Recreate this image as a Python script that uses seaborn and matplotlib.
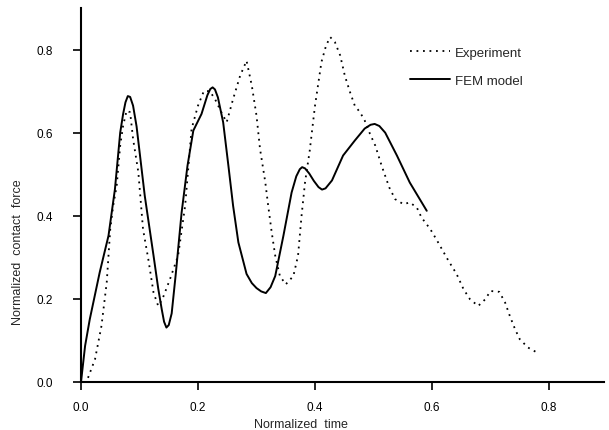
import matplotlib
matplotlib.use("Agg")
import matplotlib.pyplot as plt
import seaborn as sns
import pandas as pd

# ---- data ----
fem_time = [0.000, 0.007, 0.015, 0.032, 0.047, 0.058, 0.067, 0.072, 0.076, 0.080,
            0.084, 0.089, 0.095, 0.109, 0.124, 0.132, 0.138, 0.142, 0.146, 0.150,
            0.155, 0.162, 0.172, 0.182, 0.192, 0.206, 0.216, 0.221, 0.225, 0.229,
            0.234, 0.243, 0.252, 0.260, 0.269, 0.283, 0.292, 0.300, 0.308, 0.316,
            0.324, 0.332, 0.346, 0.360, 0.368, 0.374, 0.378, 0.383, 0.390, 0.398,
            0.406, 0.412, 0.418, 0.429, 0.448, 0.468, 0.485, 0.495, 0.502, 0.510,
            0.520, 0.540, 0.562, 0.591]
fem_force = [0.000, 0.087, 0.151, 0.264, 0.352, 0.464, 0.600, 0.645, 0.673, 0.688,
             0.686, 0.665, 0.615, 0.448, 0.304, 0.225, 0.175, 0.145, 0.131, 0.137,
             0.165, 0.260, 0.408, 0.520, 0.605, 0.645, 0.690, 0.705, 0.709, 0.704,
             0.685, 0.625, 0.520, 0.424, 0.336, 0.260, 0.238, 0.226, 0.218, 0.214,
             0.228, 0.255, 0.352, 0.456, 0.495, 0.512, 0.517, 0.514, 0.502, 0.484,
             0.469, 0.463, 0.466, 0.485, 0.545, 0.581, 0.610, 0.619, 0.621, 0.616,
             0.600, 0.545, 0.480, 0.412]

exp_time = [0.012, 0.024, 0.035, 0.044, 0.050, 0.055, 0.061, 0.067, 0.072, 0.078,
            0.084, 0.089, 0.098, 0.106, 0.115, 0.124, 0.132, 0.139, 0.152, 0.166,
            0.178, 0.189, 0.200, 0.210, 0.220, 0.229, 0.240, 0.249, 0.260, 0.272,
            0.283, 0.292, 0.300, 0.306, 0.315, 0.320, 0.326, 0.332, 0.340, 0.350,
            0.363, 0.371, 0.377, 0.383, 0.391, 0.400, 0.411, 0.419, 0.426, 0.434,
            0.443, 0.451, 0.460, 0.468, 0.477, 0.485, 0.494, 0.503, 0.514, 0.527,
            0.537, 0.551, 0.562, 0.574, 0.582, 0.597, 0.608, 0.628, 0.642, 0.654,
            0.665, 0.679, 0.691, 0.700, 0.715, 0.725, 0.733, 0.742, 0.750, 0.764,
            0.782]
exp_force = [0.010, 0.055, 0.135, 0.240, 0.368, 0.424, 0.472, 0.569, 0.617, 0.653,
             0.649, 0.585, 0.505, 0.368, 0.296, 0.215, 0.183, 0.199, 0.247, 0.304,
             0.424, 0.609, 0.665, 0.700, 0.700, 0.681, 0.649, 0.625, 0.681, 0.737,
             0.773, 0.713, 0.641, 0.561, 0.481, 0.424, 0.360, 0.304, 0.255, 0.235,
             0.255, 0.304, 0.400, 0.481, 0.557, 0.665, 0.770, 0.810, 0.830, 0.818,
             0.786, 0.737, 0.697, 0.665, 0.649, 0.629, 0.597, 0.569, 0.520, 0.468,
             0.440, 0.428, 0.432, 0.420, 0.396, 0.368, 0.342, 0.292, 0.260, 0.223,
             0.199, 0.183, 0.199, 0.219, 0.217, 0.191, 0.159, 0.127, 0.103, 0.083,
             0.069]

tick_values = [0.0, 0.2, 0.4, 0.6, 0.8]
tick_labels = ["0.0", "0.2", "0.4", "0.6", "0.8"]
series_names = ["Experiment", "FEM model"]

# ---- plotting ----
sns.set_style("ticks")
plt.rcParams["font.family"] = ["Liberation Sans", "DejaVu Sans"]

fig = plt.figure(figsize=(6.09, 4.31), dpi=100)
ax = fig.add_axes([81 / 609, 1 - 383 / 431, 523 / 609, 374 / 431])

exp_df = pd.DataFrame({"t": exp_time, "f": exp_force})
fem_df = pd.DataFrame({"t": fem_time, "f": fem_force})

sns.lineplot(data=exp_df, x="t", y="f", sort=False, estimator=None, ax=ax,
             color="black", linewidth=1.3, linestyle=(0, (1, 2.6)),
             label=series_names[0])
sns.lineplot(data=fem_df, x="t", y="f", sort=False, estimator=None, ax=ax,
             color="black", linewidth=1.4, label=series_names[1])

ax.set_xlim(0, 0.894)
ax.set_ylim(0, 0.9)
ax.set_xticks(tick_values)
ax.set_xticklabels(tick_labels)
ax.set_yticks(tick_values)
ax.set_yticklabels(tick_labels)
ax.tick_params(axis="both", direction="out", length=6, width=1.2,
               labelsize=8.5, colors="black")
ax.tick_params(axis="y", pad=14)
ax.tick_params(axis="x", pad=8)

for side in ["top", "right"]:
    ax.spines[side].set_visible(False)
for side in ["left", "bottom"]:
    ax.spines[side].set_linewidth(1.5)
    ax.spines[side].set_color("black")

ax.set_xlabel("")
ax.set_ylabel("")
fig.text(301 / 609, 1 - 425 / 431, "Normalized  time", ha="center", va="center",
         fontsize=9)
fig.text(18 / 609, 1 - 252 / 431, "Normalized  contact  force", ha="center",
         va="center", rotation=90, fontsize=9)

leg = ax.legend(loc="upper left", bbox_to_anchor=((405 - 81) / 523, (383 - 42) / 374),
                frameon=False, fontsize=9.5, handlelength=3.0,
                handletextpad=0.4, labelspacing=1.2, borderaxespad=0)

fig.savefig("out.png", dpi=100, facecolor="white")
